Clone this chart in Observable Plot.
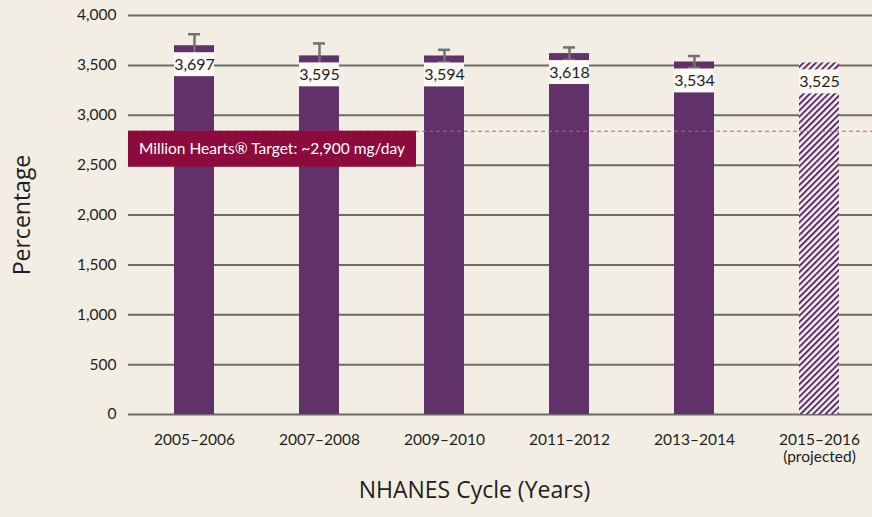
<!DOCTYPE html>
<html>
<head>
<meta charset="utf-8">
<script src="https://cdn.jsdelivr.net/npm/d3@7"></script>
<script src="https://cdn.jsdelivr.net/npm/@observablehq/plot@0.6"></script>
<style>
  html, body { margin: 0; padding: 0; background: #f2eee3; }
  #chart { width: 872px; height: 517px; }
</style>
</head>
<body>
<div id="chart"></div>
<script>
const cycles = ["2005–2006", "2007–2008", "2009–2010", "2011–2012", "2013–2014", "2015–2016"];
const tickLabels = ["2005–2006", "2007–2008", "2009–2010", "2011–2012", "2013–2014", "2015–2016\n(projected)"];
const values = [3697, 3595, 3594, 3618, 3534, 3525];
const errors = [115, 125, 62, 62, 60, null];
const projected = [false, false, false, false, false, true];
const yTicks = [0, 500, 1000, 1500, 2000, 2500, 3000, 3500, 4000];
const targetValue = 2840;
const targetLabel = "Million Hearts® Target: ~2,900 mg/day";

const data = cycles.map((c, i) => ({cycle: c, value: values[i], err: errors[i], projected: projected[i]}));
const withErr = data.filter(d => d.err != null);

const purple = "#613169";
const grid = "#6e6b68";

const plot = Plot.plot({
  width: 872,
  height: 517,
  marginTop: 15,
  marginBottom: 103,
  marginLeft: 128,
  marginRight: 0,
  style: {background: "#f2eee3", fontFamily: "Lato, sans-serif", color: "#222"},
  x: {domain: cycles, range: [129, 884], paddingInner: 0.68, paddingOuter: 0.34},
  y: {domain: [0, 4000]},
  marks: [
    Plot.ruleY(yTicks, {stroke: grid, strokeWidth: 2}),
    Plot.axisY({ticks: yTicks, tickSize: 0, tickPadding: 12, fontSize: 15.5, label: null, fill: "#1e1e1e"}),
    Plot.axisX({tickSize: 0, tickPadding: 18, fontSize: 15.5, label: null, fill: "#1e1e1e",
      tickFormat: (d) => tickLabels[cycles.indexOf(d)], lineHeight: 1.12}),
    Plot.barY(data.filter(d => !d.projected), {x: "cycle", y: "value", fill: purple}),
    Plot.barY(data.filter(d => d.projected), {x: "cycle", y: "value", fill: "url(#hatch)"}),
    Plot.ruleX(withErr, {x: "cycle", y1: d => d.value - d.err, y2: d => d.value + d.err, stroke: "#727272", strokeWidth: 2.5}),
    Plot.tickY(withErr, {x: "cycle", y: d => d.value + d.err, stroke: "#727272", strokeWidth: 2.5, insetLeft: 14, insetRight: 14}),
    Plot.tickY(withErr, {x: "cycle", y: d => d.value - d.err, stroke: "#727272", strokeWidth: 2.5, insetLeft: 14, insetRight: 14}),
    Plot.barY(data, {x: "cycle", y1: d => d.value - 70, y2: d => d.value - 310, fill: "#fbf9f4"}),
    Plot.text(data, {x: "cycle", y: d => d.value - 190, text: d => d3.format(",")(d.value), fontSize: 16, fill: "#1e1e1e"}),
    Plot.ruleY([targetValue], {stroke: "#c06070", strokeWidth: 1, strokeDasharray: "4,3"}),
    Plot.text(["Percentage"], {frameAnchor: "left", textAnchor: "middle", dx: -106, rotate: -90, fontSize: 23, fontFamily: "Open Sans, sans-serif", fill: "#1e1e1e"}),
    Plot.text(["NHANES Cycle (Years)"], {frameAnchor: "bottom", dx: -26, dy: 83, fontSize: 23, fontFamily: "Open Sans, sans-serif", fill: "#1e1e1e"})
  ]
});

// hatch pattern definition
const svg = d3.select(plot);
const defs = svg.insert("defs", ":first-child");
const pat = defs.append("pattern").attr("id", "hatch").attr("patternUnits", "userSpaceOnUse")
  .attr("width", 4.4).attr("height", 4.4).attr("patternTransform", "rotate(45)");
pat.append("rect").attr("width", 4.4).attr("height", 4.4).attr("fill", "#f4eef0");
pat.append("rect").attr("width", 1.9).attr("height", 4.4).attr("fill", "#5a2b64");

// target label box
const yScale = plot.scale("y");
const yT = yScale.apply(targetValue);
const g = svg.append("g");
const box = g.append("rect").attr("x", 128).attr("y", yT).attr("height", 36).attr("fill", "#8c0b3c");
const t = g.append("text").attr("x", 139).attr("y", yT + 18).attr("dy", "0.35em")
  .attr("text-anchor", "start")
  .attr("fill", "#fff").attr("font-size", 15.5).attr("font-family", "Lato, sans-serif").text(targetLabel);
document.getElementById("chart").appendChild(plot);
const w = t.node().getComputedTextLength();
box.attr("width", w + 22);
</script>
</body>
</html>
